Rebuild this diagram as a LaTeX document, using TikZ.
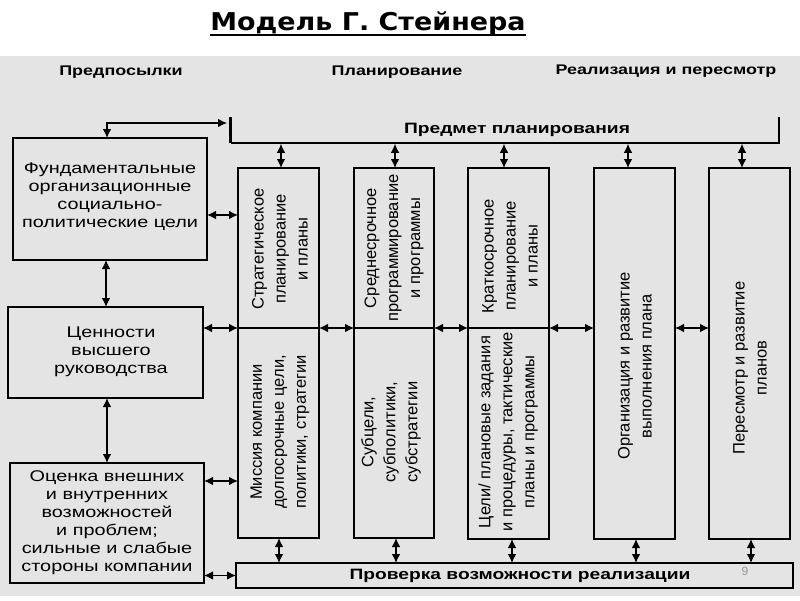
\documentclass[tikz,border=0pt]{standalone}
\usepackage{fontspec}
\setmainfont{Liberation Sans}
\newfontfamily\titlefont[FakeStretch=1.1]{DejaVu Sans}
\newfontfamily\widefont[FakeStretch=1.28]{Liberation Sans}
\usetikzlibrary{arrows.meta}
\definecolor{bggray}{RGB}{228,228,228}
\definecolor{pgnum}{RGB}{150,150,150}
\begin{document}
\begin{tikzpicture}[x=1pt,y=-1pt,
  box/.style={draw, line width=1.6pt, inner sep=0pt, outer sep=0pt},
  boxtext/.style={align=center, font=\widefont\fontsize{15.5}{18}\selectfont},
  coltext/.style={rotate=90, align=center, inner sep=0pt, font=\fontsize{16.5}{22}\selectfont},
  hdr/.style={font=\widefont\bfseries\fontsize{14}{16}\selectfont, inner sep=0pt},
  barfont/.style={font=\widefont\bfseries\fontsize{15}{17}\selectfont, inner sep=0pt},
  dbl/.style={{Latex[length=9pt,width=8.5pt]}-{Latex[length=9pt,width=8.5pt]}, line width=1.1pt}
]
\useasboundingbox (0,0) rectangle (800,600);
\fill[white] (0,0) rectangle (800,600);
\fill[bggray] (0,56) rectangle (800,596);

% title
\node[font=\titlefont\bfseries\fontsize{24.5}{28}\selectfont, inner sep=0pt, anchor=base] (title) at (368,30) {Модель Г. Стейнера};
\draw[line width=2pt] ([yshift=-5pt]title.base west) -- ([yshift=-5pt]title.base east);

% headers
\node[hdr] (h1) at (121,72) {Предпосылки};
\node[hdr] (h2) at (397,72) {Планирование};
\node[hdr] (h3) at (666,71) {Реализация и пересмотр};

% top bracket
\coordinate (tbL) at (230.5,117);
\coordinate (tbLb) at (230.5,143);
\coordinate (tbRb) at (779,143);
\coordinate (tbR) at (779,117);
\draw[line width=1.6pt] (tbLb) -- (tbRb) -- (tbR);
\draw[line width=3pt] (tbL) -- (tbLb);
\node[barfont] (tbt) at (517,130) {Предмет планирования};

% left boxes
\node[box, minimum width=194, minimum height=122] (b1) at (110,199) {};
\node[boxtext] (b1t) at (110,197) {Фундаментальные\\организационные\\социально-\\политические цели};
\node[box, minimum width=195, minimum height=91] (b2) at (105.5,352.5) {};
\node[boxtext] (b2t) at (111,352) {Ценности\\высшего\\руководства};
\node[box, minimum width=194, minimum height=120] (b3) at (107,523) {};
\node[boxtext] (b3t) at (107,523) {Оценка внешних\\и внутренних\\возможностей\\и проблем;\\сильные и слабые\\стороны компании};

% columns
\node[box, minimum width=81, minimum height=160] (c1u) at (278.5,248) {};
\node[box, minimum width=81, minimum height=210] (c1l) at (278.5,433) {};
\node[box, minimum width=80, minimum height=160] (c2u) at (394,248) {};
\node[box, minimum width=80, minimum height=210] (c2l) at (394,433) {};
\node[box, minimum width=81, minimum height=160] (c3u) at (508.5,248) {};
\node[box, minimum width=81, minimum height=211] (c3l) at (508.5,433.5) {};
\node[box, minimum width=81, minimum height=371] (c4) at (634.5,353.5) {};
\node[box, minimum width=81, minimum height=371] (c5) at (749.5,353.5) {};

\node[coltext] (t1u) at (280,249) {Стратегическое\\планирование\\и планы};
\node[coltext] (t1l) at (280,432) {Миссия компании\\долгосрочные цели,\\политики, стратегии};
\node[coltext] (t2u) at (394,248) {Среднесрочное\\программирование\\и программы};
\node[coltext] (t2l) at (391,432) {Субцели,\\субполитики,\\субстратегии};
\node[coltext] (t3u) at (510,256) {Краткосрочное\\планирование\\и планы};
\node[coltext] (t3l) at (508,432) {Цели/ плановые задания\\и процедуры, тактические\\планы и программы};
\node[coltext] (t4) at (635,366) {Организация и развитие\\выполнения плана};
\node[coltext] (t5) at (750,368) {Пересмотр и развитие\\планов};

% bottom bar
\node[box, minimum width=557, minimum height=25] (pb) at (514.5,575.5) {};
\node[barfont] (pbt) at (520,576) {Проверка возможности реализации};
\node[font=\fontsize{12}{14}\selectfont, text=pgnum, inner sep=0pt] (pg) at (745,571) {9};

% arrows
\coordinate (tbin) at (227,123);
\draw[dbl] ([xshift=-3pt]b1.north) |- (tbin);
\foreach \n/\x in {c1u/281, c2u/395, c3u/504, c4/628, c5/742}{
  \coordinate (top-\n) at (\x,143.8);
  \draw[dbl] (top-\n) -- (top-\n |- \n.north);
}
\foreach \n/\x in {c1l/279, c2l/396, c3l/512, c4/636, c5/751}{
  \coordinate (bot-\n) at (\x,563);
  \draw[dbl] (bot-\n |- \n.south) -- (bot-\n);
}
\coordinate (r1) at (0,215);
\coordinate (r3) at (0,481);
\draw[dbl] (b1.east |- r1) -- (c1u.west |- r1);
\draw[dbl] (b2.east |- c1u.south) -- (c1u.south west);
\draw[dbl] (b3.east |- r3) -- (c1l.west |- r3);
\draw[dbl] (b3.east |- pb.west) -- (pb.west);
\draw[dbl] (c1u.south east) -- (c2u.south west);
\draw[dbl] (c2u.south east) -- (c3u.south west);
\draw[dbl] (c3u.south east) -- (c3u.south east -| c4.west);
\draw[dbl] (c3u.south east -| c4.east) -- (c3u.south east -| c5.west);
\coordinate (v1) at (106,0);
\coordinate (v2) at (107,0);
\draw[dbl] (b1.south -| v1) -- (b2.north -| v1);
\draw[dbl] (b2.south -| v2) -- (b3.north -| v2);
\end{tikzpicture}
\end{document}
